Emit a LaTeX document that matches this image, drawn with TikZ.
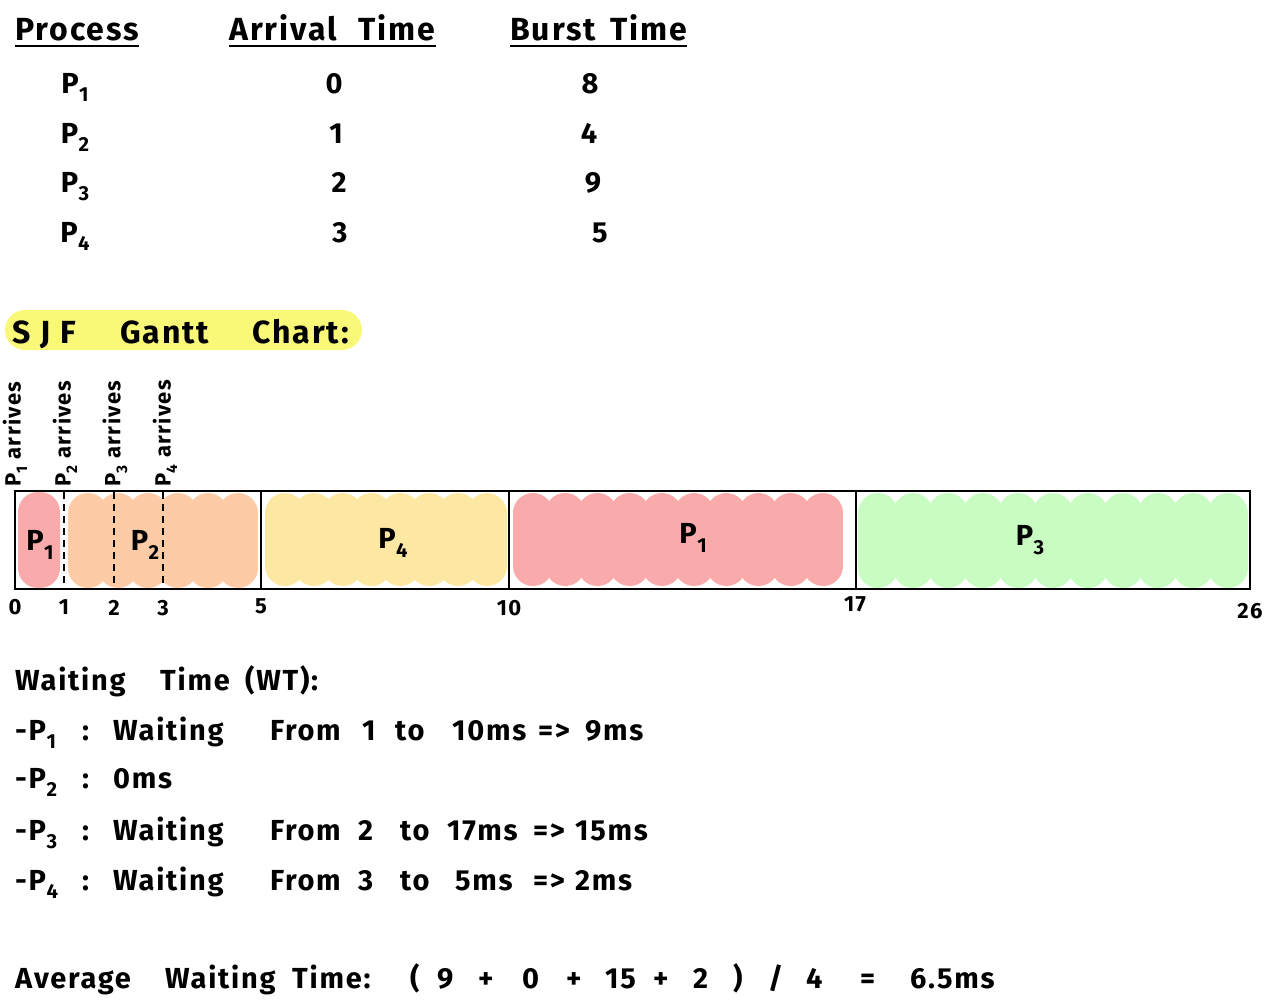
\documentclass[tikz,border=0pt]{standalone}
\usepackage{graphicx}
\usepackage{fontspec}
\setmainfont[LetterSpace=6]{Fira Sans}
\newcommand{\Pn}[1]{P\kern0.5pt\raisebox{-0.3em}{\scalebox{0.7}{#1}}}
\definecolor{blobred}{HTML}{F9AAAA}
\definecolor{blobpeach}{HTML}{FDCBA5}
\definecolor{blobyellow}{HTML}{FCE8A2}
\definecolor{blobgreen}{HTML}{C9FCC3}
\definecolor{hilite}{HTML}{FAF878}
\newcommand{\myblob}[6]{%
  \fill[#1] (#2,{#3+20}) rectangle (#4,{#5-20});
  \pgfmathsetmacro{\bw}{(#4-#2-40)/#6}
  \foreach \k in {0,...,#6}{
    \fill[#1] ({#2+20+\k*\bw},{#3+20}) circle[radius=20pt];
    \fill[#1] ({#2+20+\k*\bw},{#5-20}) circle[radius=20pt];
  }
}
\begin{document}
\begin{tikzpicture}[x=1pt,y=-1pt,
  hdr/.style={anchor=base west,inner sep=0pt,font=\fontsize{32}{34}\selectfont\bfseries},
  cell/.style={anchor=base,inner sep=0pt,font=\fontsize{29}{31}\selectfont\bfseries},
  txt/.style={anchor=base west,inner sep=0pt,font=\fontsize{29}{31}\selectfont\bfseries},
  arr/.style={rotate=90,anchor=west,inner sep=0pt,font=\fontsize{22}{24}\selectfont\bfseries},
  ax/.style={inner sep=0pt,font=\fontsize{22}{24}\selectfont\bfseries},
  uline/.style={line width=2.2pt},
  boxline/.style={line width=2.2pt},
  dashline/.style={line width=1.8pt,dash pattern=on 7pt off 5pt}]
\path[use as bounding box] (0,0) rectangle (1281,1002);

% header
\node[hdr] (hproc) at (15,40) {Process};
\node[hdr] (harr) at (229,40) {Arrival\hspace{22pt}Time};
\node[hdr] (hbur) at (510,40) {Burst\hspace{14pt}Time};
\foreach \n in {hproc,harr,hbur}
  \draw[uline] ([yshift=-6pt]\n.base west) -- ([yshift=-6pt]\n.base east);

% table rows
\foreach \i/\y/\a/\b/\ax/\bx in {1/93/0/8/334/590,2/143/1/4/336/589,3/192/2/9/339/593,4/242/3/5/340/600}{
  \node[cell] (p\i) at (75,\y) {\Pn{\i}};
  \node[cell] (a\i) at (\ax,\y) {\a};
  \node[cell] (b\i) at (\bx,\y) {\b};
}

% title
\fill[hilite,rounded corners=20pt] (5,310) rectangle (362,350);
\foreach \x/\t [count=\i] in {12/{S\hspace{10pt}J\hspace{10pt}F},120/{Gantt},252/{Chart:}}
  \node[hdr] (sjf\i) at (\x,343) {\t};

% arrival labels
\foreach \i/\x in {1/15,2/65,3/115,4/165}
  \node[arr] (arr\i) at (\x,487) {\Pn{\i} arrives};

% blobs
\fill[blobred,rounded corners=20pt] (18,492) rectangle (60,588);
\myblob{blobpeach}{68}{493}{258}{588}{5}
\myblob{blobyellow}{265}{493}{507}{586}{7}
\myblob{blobred}{513}{493}{843}{586}{9}
\myblob{blobgreen}{858}{493}{1248}{588}{10}

% gantt box
\draw[boxline] (15,491) rectangle (1250,589);
\foreach \x in {261,509,856}
  \draw[boxline] (\x,491) -- (\x,589);
\foreach \x in {64,114,163}
  \draw[dashline] (\x,492) -- (\x,588);

% block labels
\node[cell,anchor=center] (g1) at (40,545) {\Pn{1}};
\node[cell,anchor=center] (g2) at (145,545) {\Pn{2}};
\node[cell,anchor=center] (g3) at (393,543) {\Pn{4}};
\node[cell,anchor=center] (g4) at (693,538) {\Pn{1}};
\node[cell,anchor=center] (g5) at (1030,540) {\Pn{3}};

% axis
\foreach \t/\x/\y in {0/15/607,1/64/607,2/114/608,3/163/608,5/261/606,10/509/608,17/855/604,26/1250/611}
  \node[ax] (t\t) at (\x,\y) {\t};

% waiting time
\foreach \x/\t [count=\i] in {15/{Waiting},160/{Time},245/{(WT):}}
  \node[txt] (wt\i) at (\x,690) {\t};
\foreach \x/\t [count=\i] in {15/{-\Pn{1}},82/{:},113/{Waiting},270/{From},362/{1},395/{to},452/{10ms},538/{=>},585/{9ms}}
  \node[txt] (wa\i) at (\x,740) {\t};
\foreach \x/\t [count=\i] in {15/{-\Pn{2}},82/{:},113/{0ms}}
  \node[txt] (wb\i) at (\x,788) {\t};
\foreach \x/\t [count=\i] in {15/{-\Pn{3}},82/{:},113/{Waiting},270/{From},358/{2},400/{to},447/{17ms},533/{=>},575/{15ms}}
  \node[txt] (wc\i) at (\x,840) {\t};
\foreach \x/\t [count=\i] in {15/{-\Pn{4}},82/{:},113/{Waiting},270/{From},358/{3},400/{to},455/{5ms},533/{=>},575/{2ms}}
  \node[txt] (wd\i) at (\x,890) {\t};

% average
\foreach \x/\t [count=\i] in {15/{Average},165/{Waiting},292/{Time:},410/{(},437/{9},478/{+},522/{0},566/{+},605/{15},653/{+},693/{2},733/{)},768/{/},806/{4},860/{=},910/{6.5ms}}
  \node[txt] (av\i) at (\x,988) {\t};
\end{tikzpicture}
\end{document}
